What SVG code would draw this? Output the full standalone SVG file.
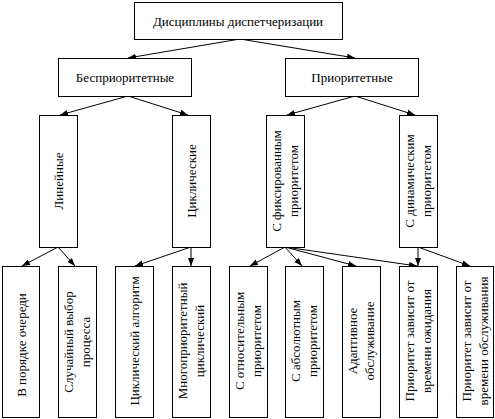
<svg xmlns="http://www.w3.org/2000/svg" width="495" height="419" viewBox="0 0 495 419">
<style>
rect{fill:#fff;stroke:#000;stroke-width:1}
text{font-family:"Liberation Serif","Times New Roman",serif;font-size:13px;fill:#000;text-anchor:middle}
.c line{stroke:#000;stroke-width:1;marker-end:url(#a)}
</style>
<defs>
<marker id="a" markerUnits="userSpaceOnUse" markerWidth="9" markerHeight="7" refX="8" refY="3" orient="auto"><path d="M0,0 L8,3 L0,6 z" fill="#000"/></marker>
</defs>
<rect width="495" height="419" style="stroke:none"/>
<g class="c">
<line x1="240" y1="39" x2="128" y2="58"/>
<line x1="240" y1="39" x2="355" y2="58"/>
<line x1="128" y1="96" x2="60" y2="115"/>
<line x1="128" y1="96" x2="188" y2="115"/>
<line x1="355" y1="96" x2="287" y2="115"/>
<line x1="355" y1="96" x2="415" y2="115"/>
<line x1="58" y1="247" x2="22" y2="266"/>
<line x1="58" y1="247" x2="75" y2="266"/>
<line x1="191" y1="247" x2="135" y2="266"/>
<line x1="191" y1="247" x2="191" y2="266"/>
<line x1="285" y1="247" x2="250" y2="266"/>
<line x1="285" y1="247" x2="302" y2="266"/>
<line x1="285" y1="247" x2="356" y2="266"/>
<line x1="285" y1="247" x2="417" y2="266"/>
<line x1="418" y1="247" x2="418" y2="266"/>
<line x1="418" y1="247" x2="470" y2="266"/>
</g>
<g id="root"><rect x="134.5" y="2.5" width="208" height="37"/><text x="238" y="25.5">Дисциплины диспетчеризации</text></g>
<g id="nonprio"><rect x="58.5" y="58.5" width="133" height="38"/><text x="125" y="82">Бесприоритетные</text></g>
<g id="prio"><rect x="285.5" y="58.5" width="133" height="38"/><text x="352" y="82">Приоритетные</text></g>
<g id="linear"><rect x="39.5" y="115.5" width="38" height="132"/><text transform="translate(58,181) rotate(-90)" y="4.5">Линейные</text></g>
<g id="cyclic"><rect x="172.5" y="115.5" width="38" height="132"/><text transform="translate(191,181) rotate(-90)" y="4.5">Циклические</text></g>
<g id="fixed"><rect x="266.5" y="115.5" width="38" height="132"/><text transform="translate(285,181) rotate(-90)"><tspan x="0" y="-4">С фиксированным</tspan><tspan x="0" y="13">приоритетом</tspan></text></g>
<g id="dynamic"><rect x="399.5" y="115.5" width="38" height="132"/><text transform="translate(418,181) rotate(-90)"><tspan x="0" y="-4">С динамическим</tspan><tspan x="0" y="13">приоритетом</tspan></text></g>
<g id="fifo"><rect x="2.5" y="266.5" width="37" height="151"/><text transform="translate(21,345) rotate(-90)" y="4.5">В порядке очереди</text></g>
<g id="random"><rect x="58.5" y="266.5" width="38" height="151"/><text transform="translate(77,342) rotate(-90)"><tspan x="0" y="-4">Случайный выбор</tspan><tspan x="0" y="13">процесса</tspan></text></g>
<g id="rr"><rect x="115.5" y="266.5" width="38" height="151"/><text transform="translate(134,341) rotate(-90)" y="4.5">Циклический алгоритм</text></g>
<g id="multi"><rect x="172.5" y="266.5" width="38" height="151"/><text transform="translate(191,341) rotate(-90)"><tspan x="0" y="-4">Многоприоритетный</tspan><tspan x="0" y="13">циклический</tspan></text></g>
<g id="relative"><rect x="229.5" y="266.5" width="38" height="151"/><text transform="translate(248,341) rotate(-90)"><tspan x="0" y="-4">С относительным</tspan><tspan x="0" y="13">приоритетом</tspan></text></g>
<g id="absolute"><rect x="285.5" y="266.5" width="38" height="151"/><text transform="translate(304,341) rotate(-90)"><tspan x="0" y="-4">С абсолютным</tspan><tspan x="0" y="13">приоритетом</tspan></text></g>
<g id="adaptive"><rect x="342.5" y="266.5" width="38" height="151"/><text transform="translate(361,341) rotate(-90)"><tspan x="0" y="-4">Адаптивное</tspan><tspan x="0" y="13">обслуживание</tspan></text></g>
<g id="wait"><rect x="399.5" y="266.5" width="38" height="151"/><text transform="translate(418,341) rotate(-90)"><tspan x="0" y="-4">Приоритет зависит от</tspan><tspan x="0" y="13">времени ожидания</tspan></text></g>
<g id="service"><rect x="456.5" y="266.5" width="37" height="151"/><text transform="translate(475,341) rotate(-90)"><tspan x="0" y="-4">Приоритет зависит от</tspan><tspan x="0" y="13">времени обслуживания</tspan></text></g>
</svg>
